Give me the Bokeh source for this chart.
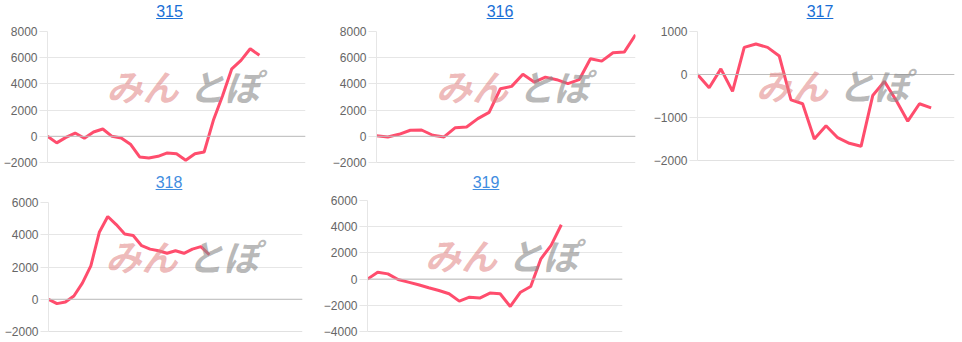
import numpy as np
from bokeh.plotting import figure
from bokeh.models import Range1d, FixedTicker, Span, Label, Div
from bokeh.layouts import column, row
from bokeh.embed import file_html
from bokeh.resources import INLINE

# ---- data ----
titles = ["315", "316", "317", "318", "319"]
v315 = [0, -500, -80, 250, -150, 330, 560, 0, -130, -600, -1580, -1650, -1530,
        -1270, -1340, -1830, -1330, -1200, 1220, 3100, 5150, 5800, 6680, 6180]
v316 = [50, -50, 150, 460, 480, 80, -50, 660, 710, 1350, 1830, 3630, 3810, 4730,
        4140, 4520, 4320, 4020, 4320, 5920, 5740, 6380, 6430, 7750]
v317 = [0, -310, 130, -390, 630, 710, 630, 430, -590, -680, -1500, -1190, -1470,
        -1600, -1670, -490, -160, -600, -1085, -680, -775]
v318 = [0, -270, -170, 200, 1000, 2070, 4150, 5130, 4630, 4050, 3950, 3320, 3110,
        3010, 2850, 3010, 2850, 3110, 3260, 2760]
v319 = [0, 530, 400, -30, -230, -430, -660, -870, -1120, -1680, -1380, -1450,
        -1070, -1120, -2090, -1000, -560, 1550, 2570, 4150]
series = [v315, v316, v317, v318, v319]
slots = [29, 24, 23, 31, 26]          # category slots on each x axis
y_mins = [-2000, -2000, -2000, -2000, -4000]
y_maxs = [8000, 8000, 1000, 6000, 6000]
y_steps = [2000, 2000, 1000, 2000, 2000]

# ---- layout / style ----
# width, height, left, right, top, bottom, title center x, title baseline, title color
cells = [
    (320, 170, 46, 15, 31, 8, 169.5, 17, "#1a6fd6"),
    (320, 170, 56, 5, 31, 8, 180, 17, "#1a6fd6"),
    (322, 170, 57, 8, 31, 10, 180, 17, "#1a6fd6"),
    (320, 172, 48, 18, 32, 11, 169, 18, "#3f8de0"),
    (320, 172, 42, 18, 30, 11, 166, 18, "#3f8de0"),
]
TITLE_H = 22
LINE = "#ff4d6d"
FONT = "Liberation Sans"


def make(i):
    w, h, bl, br, bt, bb, tcx, tby, tcol = cells[i]
    vals = series[i]
    n = slots[i]
    ph = h - TITLE_H
    p = figure(width=w, height=ph, output_backend="svg", toolbar_location=None,
               x_range=Range1d(0, n - 1), y_range=Range1d(y_mins[i], y_maxs[i]),
               min_border_left=bl, min_border_right=br, min_border_top=bt - TITLE_H,
               min_border_bottom=bb, background_fill_color="white",
               border_fill_color="white", margin=0)
    p.outline_line_color = None
    p.xaxis.visible = False
    p.xgrid.visible = False
    ticks = list(np.arange(y_mins[i], y_maxs[i] + 1, y_steps[i]))
    p.yaxis.ticker = FixedTicker(ticks=ticks)
    p.ygrid.ticker = FixedTicker(ticks=ticks)
    p.ygrid.grid_line_color = "#e6e6e6"
    p.yaxis.axis_line_color = "#e6e6e6"
    p.yaxis.major_tick_line_color = "#e6e6e6"
    p.yaxis.major_tick_out = 8
    p.yaxis.major_tick_in = 0
    p.yaxis.minor_tick_line_color = None
    p.yaxis.major_label_standoff = 2
    p.yaxis.major_label_text_font = FONT
    p.yaxis.major_label_text_font_size = "12px"
    p.yaxis.major_label_text_color = "#666666"

    p.add_layout(Span(location=0, dimension="width", line_color="#bdbdbd", line_width=1))
    p.add_layout(Span(location=y_mins[i], dimension="width", line_color="#c4c4c4", line_width=1))

    # watermark
    xm = (n - 1) / 2
    ym = (y_mins[i] + y_maxs[i]) / 2
    p.add_layout(Label(x=xm, y=ym, x_offset=2, y_offset=12, text="みん",
                       text_align="right", text_baseline="middle",
                       text_font="Noto Sans CJK JP", text_font_style="bold italic",
                       text_font_size="36px", text_color="#e08080", text_alpha=0.55))
    p.add_layout(Label(x=xm, y=ym, x_offset=12, y_offset=12, text="とぽ",
                       text_align="left", text_baseline="middle",
                       text_font="Noto Sans CJK JP", text_font_style="bold italic",
                       text_font_size="36px", text_color="#8a8a8a", text_alpha=0.6))

    p.line(list(range(len(vals))), vals, line_color=LINE, line_width=3)

    # title as an underlined link
    pad_top = tby - 15.5
    html = (f'<div style="width:{w}px;height:{TITLE_H}px;text-align:center;'
            f'box-sizing:border-box;padding-top:{pad_top}px;line-height:20px;">'
            f'<a href="#" style="position:relative;left:{tcx - w / 2}px;color:{tcol};'
            f'text-decoration:underline;font-family:\'{FONT}\';font-size:16px;">'
            f'{titles[i]}</a></div>')
    d = Div(text=html, width=w, height=TITLE_H, margin=0)
    return column(d, p, spacing=0)


cols = [make(i) for i in range(5)]
layout = column(row(cols[0], cols[1], cols[2], spacing=0),
                row(cols[3], cols[4], spacing=0), spacing=0)
open("out.html", "w").write(file_html(layout, INLINE))
